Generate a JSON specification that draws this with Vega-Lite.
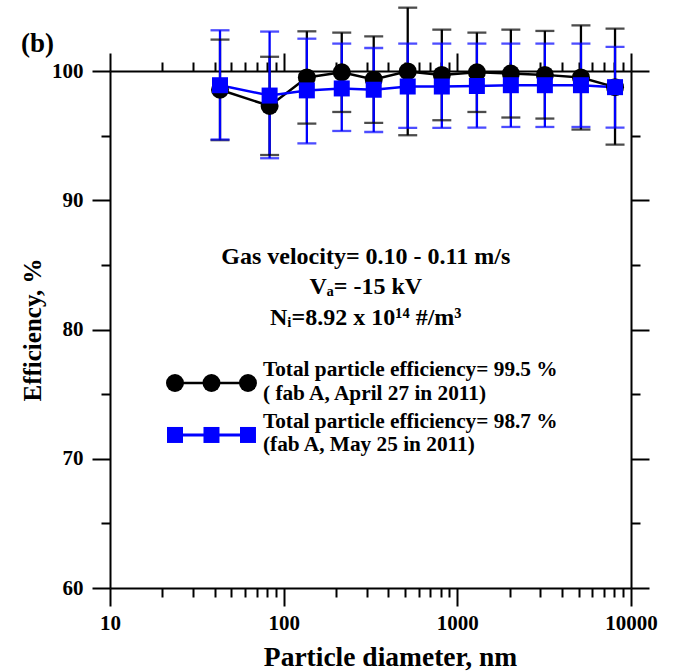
{
  "$schema": "https://vega.github.io/schema/vega-lite/v6.json",
  "width": 521,
  "height": 517,
  "autosize": {"type": "none"},
  "padding": {"left": 110, "top": 71, "right": 44, "bottom": 83},
  "background": "white",
  "title": {"text": "(b)", "anchor": "start", "frame": "group", "font": "Liberation Serif", "fontSize": 27, "fontWeight": "bold", "color": "black", "dx": -89, "offset": 0, "dy": 51},
  "config": {"view": {"stroke": null}},
  "datasets": {
    "eff": [
      {"series": "A", "d": 43, "eff": 98.55, "lo": 94.65, "hi": 102.43},
      {"series": "A", "d": 83, "eff": 97.3, "lo": 93.5, "hi": 101.1},
      {"series": "A", "d": 136, "eff": 99.5, "lo": 95.93, "hi": 103.07},
      {"series": "A", "d": 216, "eff": 99.9, "lo": 96.83, "hi": 102.97},
      {"series": "A", "d": 330, "eff": 99.35, "lo": 95.98, "hi": 102.68},
      {"series": "A", "d": 518, "eff": 99.97, "lo": 95.03, "hi": 104.9},
      {"series": "A", "d": 814, "eff": 99.7, "lo": 96.19, "hi": 103.2},
      {"series": "A", "d": 1296, "eff": 99.9, "lo": 96.83, "hi": 102.97},
      {"series": "A", "d": 2033, "eff": 99.8, "lo": 96.4, "hi": 103.2},
      {"series": "A", "d": 3192, "eff": 99.7, "lo": 96.32, "hi": 103.1},
      {"series": "A", "d": 5150, "eff": 99.5, "lo": 95.47, "hi": 103.53},
      {"series": "A", "d": 8092, "eff": 98.75, "lo": 94.3, "hi": 103.28},
      {"series": "B", "d": 43, "eff": 98.9, "lo": 94.7, "hi": 103.15},
      {"series": "B", "d": 83, "eff": 98.1, "lo": 93.25, "hi": 103.05},
      {"series": "B", "d": 136, "eff": 98.5, "lo": 94.4, "hi": 102.5},
      {"series": "B", "d": 216, "eff": 98.65, "lo": 95.36, "hi": 102.12},
      {"series": "B", "d": 330, "eff": 98.55, "lo": 95.28, "hi": 101.78},
      {"series": "B", "d": 518, "eff": 98.8, "lo": 95.6, "hi": 102.12},
      {"series": "B", "d": 814, "eff": 98.8, "lo": 95.6, "hi": 102.12},
      {"series": "B", "d": 1296, "eff": 98.84, "lo": 95.62, "hi": 102.12},
      {"series": "B", "d": 2033, "eff": 98.9, "lo": 95.67, "hi": 102.12},
      {"series": "B", "d": 3192, "eff": 98.9, "lo": 95.67, "hi": 102.12},
      {"series": "B", "d": 5150, "eff": 98.9, "lo": 95.67, "hi": 102.12},
      {"series": "B", "d": 8092, "eff": 98.75, "lo": 95.62, "hi": 101.86}
    ],
    "key": [{"series": "A"}]
  },
  "data": {"name": "eff"},
  "layer": [
    {
      "mark": {"type": "line", "strokeWidth": 2.5},
      "encoding": {
        "x": {"field": "d", "type": "quantitative", "scale": {"type": "log", "domain": [10, 10000], "nice": false},
          "axis": {"orient": "bottom", "values": [10,20,30,40,50,60,70,80,90,100,200,300,400,500,600,700,800,900,1000,2000,3000,4000,5000,6000,7000,8000,9000,10000],
            "format": "d", "labelExpr": "indexof([10,100,1000,10000], datum.value) >= 0 ? datum.label : ''",
            "tickSize": {"condition": {"test": "indexof([10,100,1000,10000], datum.value) >= 0", "value": 18}, "value": 9},
            "title": "Particle diameter, nm", "titleFont": "Liberation Serif", "titleFontSize": 27.5, "titleFontWeight": "bold", "titleColor": "black", "titlePadding": 10, "titleX": 280, "titleAlign": "center",
            "labelFont": "Liberation Serif", "labelFontSize": 21, "labelFontWeight": "bold", "labelColor": "black", "labelPadding": 6, "labelFlush": false, "labelOverlap": false,
            "domainColor": "black", "domainWidth": 2, "tickColor": "black", "tickWidth": 2, "grid": false}},
        "y": {"field": "eff", "type": "quantitative", "scale": {"domain": [60, 100], "nice": false, "zero": false},
          "axis": {"orient": "left", "values": [60,65,70,75,80,85,90,95,100],
            "labelExpr": "datum.value % 10 == 0 ? datum.label : ''",
            "tickSize": {"condition": {"test": "datum.value % 10 == 0", "value": 18}, "value": 9},
            "title": "Efficiency, %", "titleFont": "Liberation Serif", "titleFontSize": 25, "titleFontWeight": "bold", "titleColor": "black", "titlePadding": 6,
            "labelFont": "Liberation Serif", "labelFontSize": 21, "labelFontWeight": "bold", "labelColor": "black", "labelPadding": 9, "labelFlush": false, "labelOverlap": false,
            "domainColor": "black", "domainWidth": 2, "tickColor": "black", "tickWidth": 2, "grid": false}},
        "color": {"field": "series", "type": "nominal", "scale": {"domain": ["A", "B"], "range": ["#000000", "#0000ff"]}, "legend": null}
      }
    },
    {
      "mark": {"type": "rule", "strokeWidth": 2.3},
      "encoding": {
        "x": {"field": "d", "type": "quantitative", "scale": {"type": "log", "domain": [10, 10000], "nice": false},
          "axis": {"orient": "top", "values": [10,20,30,40,50,60,70,80,90,100,200,300,400,500,600,700,800,900,1000,2000,3000,4000,5000,6000,7000,8000,9000,10000],
            "labels": false, "title": null,
            "tickSize": {"condition": {"test": "indexof([10,100,1000,10000], datum.value) >= 0", "value": 18}, "value": 9},
            "domainColor": "black", "domainWidth": 2, "tickColor": "black", "tickWidth": 2, "grid": false}},
        "y": {"field": "lo", "type": "quantitative", "scale": {"domain": [60, 100], "nice": false, "zero": false},
          "axis": {"orient": "right", "values": [60,65,70,75,80,85,90,95,100], "labels": false, "title": null,
            "tickSize": {"condition": {"test": "datum.value % 10 == 0", "value": 18}, "value": 9},
            "domainColor": "black", "domainWidth": 2, "tickColor": "black", "tickWidth": 2, "grid": false}},
        "y2": {"field": "hi"},
        "color": {"field": "series", "type": "nominal", "scale": {"domain": ["A", "B"], "range": ["#000000", "#0000ff"]}, "legend": null}
      }
    },
    {
      "mark": {"type": "tick", "orient": "horizontal", "size": 19, "thickness": 2.3},
      "encoding": {
        "x": {"field": "d", "type": "quantitative", "scale": {"type": "log", "domain": [10, 10000], "nice": false}, "axis": null},
        "y": {"field": "lo", "type": "quantitative", "scale": {"domain": [60, 100], "nice": false, "zero": false}, "axis": null},
        "color": {"field": "series", "type": "nominal", "scale": {"domain": ["A", "B"], "range": ["#000000", "#0000ff"]}, "legend": null}
      }
    },
    {
      "mark": {"type": "tick", "orient": "horizontal", "size": 19, "thickness": 2.3},
      "encoding": {
        "x": {"field": "d", "type": "quantitative", "scale": {"type": "log", "domain": [10, 10000], "nice": false}, "axis": null},
        "y": {"field": "hi", "type": "quantitative", "scale": {"domain": [60, 100], "nice": false, "zero": false}, "axis": null},
        "color": {"field": "series", "type": "nominal", "scale": {"domain": ["A", "B"], "range": ["#000000", "#0000ff"]}, "legend": null}
      }
    },
    {
      "transform": [{"filter": "datum.series == 'A'"}],
      "mark": {"type": "circle", "size": 324, "opacity": 1, "color": "#000000"},
      "encoding": {
        "x": {"field": "d", "type": "quantitative", "scale": {"type": "log", "domain": [10, 10000], "nice": false}, "axis": null},
        "y": {"field": "eff", "type": "quantitative", "scale": {"domain": [60, 100], "nice": false, "zero": false}, "axis": null}
      }
    },
    {
      "transform": [{"filter": "datum.series == 'B'"}],
      "mark": {"type": "square", "size": 256, "opacity": 1, "color": "#0000ff"},
      "encoding": {
        "x": {"field": "d", "type": "quantitative", "scale": {"type": "log", "domain": [10, 10000], "nice": false}, "axis": null},
        "y": {"field": "eff", "type": "quantitative", "scale": {"domain": [60, 100], "nice": false, "zero": false}, "axis": null}
      }
    },
    {
      "data": {"name": "key"},
      "mark": {"type": "rule", "color": "#000000", "strokeWidth": 2.3},
      "encoding": {
        "x": {"datum": 23.67, "type": "quantitative", "scale": {"type": "log", "domain": [10, 10000], "nice": false}, "axis": null},
        "x2": {"datum": 62.3},
        "y": {"datum": 75.86, "type": "quantitative", "scale": {"domain": [60, 100], "nice": false, "zero": false}, "axis": null}
      }
    },
    {
      "data": {"name": "key"},
      "mark": {"type": "circle", "size": 324, "opacity": 1, "color": "#000000"},
      "encoding": {
        "x": {"datum": 23.67, "type": "quantitative", "scale": {"type": "log", "domain": [10, 10000], "nice": false}, "axis": null},
        "y": {"datum": 75.86, "type": "quantitative", "scale": {"domain": [60, 100], "nice": false, "zero": false}, "axis": null}
      }
    },
    {
      "data": {"name": "key"},
      "mark": {"type": "circle", "size": 324, "opacity": 1, "color": "#000000"},
      "encoding": {
        "x": {"datum": 38.4, "type": "quantitative", "scale": {"type": "log", "domain": [10, 10000], "nice": false}, "axis": null},
        "y": {"datum": 75.86, "type": "quantitative", "scale": {"domain": [60, 100], "nice": false, "zero": false}, "axis": null}
      }
    },
    {
      "data": {"name": "key"},
      "mark": {"type": "circle", "size": 324, "opacity": 1, "color": "#000000"},
      "encoding": {
        "x": {"datum": 62.3, "type": "quantitative", "scale": {"type": "log", "domain": [10, 10000], "nice": false}, "axis": null},
        "y": {"datum": 75.86, "type": "quantitative", "scale": {"domain": [60, 100], "nice": false, "zero": false}, "axis": null}
      }
    },
    {
      "data": {"name": "key"},
      "mark": {"type": "rule", "color": "#0000ff", "strokeWidth": 3},
      "encoding": {
        "x": {"datum": 23.67, "type": "quantitative", "scale": {"type": "log", "domain": [10, 10000], "nice": false}, "axis": null},
        "x2": {"datum": 62.3},
        "y": {"datum": 71.84, "type": "quantitative", "scale": {"domain": [60, 100], "nice": false, "zero": false}, "axis": null}
      }
    },
    {
      "data": {"name": "key"},
      "mark": {"type": "square", "size": 256, "opacity": 1, "color": "#0000ff"},
      "encoding": {
        "x": {"datum": 23.67, "type": "quantitative", "scale": {"type": "log", "domain": [10, 10000], "nice": false}, "axis": null},
        "y": {"datum": 71.84, "type": "quantitative", "scale": {"domain": [60, 100], "nice": false, "zero": false}, "axis": null}
      }
    },
    {
      "data": {"name": "key"},
      "mark": {"type": "square", "size": 256, "opacity": 1, "color": "#0000ff"},
      "encoding": {
        "x": {"datum": 38.4, "type": "quantitative", "scale": {"type": "log", "domain": [10, 10000], "nice": false}, "axis": null},
        "y": {"datum": 71.84, "type": "quantitative", "scale": {"domain": [60, 100], "nice": false, "zero": false}, "axis": null}
      }
    },
    {
      "data": {"name": "key"},
      "mark": {"type": "square", "size": 256, "opacity": 1, "color": "#0000ff"},
      "encoding": {
        "x": {"datum": 62.3, "type": "quantitative", "scale": {"type": "log", "domain": [10, 10000], "nice": false}, "axis": null},
        "y": {"datum": 71.84, "type": "quantitative", "scale": {"domain": [60, 100], "nice": false, "zero": false}, "axis": null}
      }
    },
    {
      "data": {"name": "key"},
      "mark": {"type": "text", "font": "Liberation Serif", "fontSize": 21.3, "fontWeight": "bold", "color": "black", "align": "left", "baseline": "alphabetic", "lineHeight": 23.5},
      "encoding": {
        "x": {"datum": 76.0, "type": "quantitative", "scale": {"type": "log", "domain": [10, 10000], "nice": false}, "axis": null},
        "y": {"datum": 76.4, "type": "quantitative", "scale": {"domain": [60, 100], "nice": false, "zero": false}, "axis": null},
        "text": {"value": ["Total particle efficiency= 99.5 %", "( fab A, April 27 in 2011)"]}
      }
    },
    {
      "data": {"name": "key"},
      "mark": {"type": "text", "font": "Liberation Serif", "fontSize": 21.3, "fontWeight": "bold", "color": "black", "align": "left", "baseline": "alphabetic", "lineHeight": 23.5},
      "encoding": {
        "x": {"datum": 76.0, "type": "quantitative", "scale": {"type": "log", "domain": [10, 10000], "nice": false}, "axis": null},
        "y": {"datum": 72.38, "type": "quantitative", "scale": {"domain": [60, 100], "nice": false, "zero": false}, "axis": null},
        "text": {"value": ["Total particle efficiency= 98.7 %", "(fab A, May 25 in 2011)"]}
      }
    },
    {
      "data": {"name": "key"},
      "mark": {"type": "text", "font": "Liberation Serif", "fontSize": 24, "fontWeight": "bold", "color": "black", "align": "center", "baseline": "alphabetic", "lineHeight": 30.5},
      "encoding": {
        "x": {"datum": 297, "type": "quantitative", "scale": {"type": "log", "domain": [10, 10000], "nice": false}, "axis": null},
        "y": {"datum": 85.1, "type": "quantitative", "scale": {"domain": [60, 100], "nice": false, "zero": false}, "axis": null},
        "text": {"value": ["Gas velocity= 0.10 - 0.11 m/s", "Vₐ= -15 kV", "Nᵢ=8.92 x 10¹⁴ #/m³"]}
      }
    }
  ],
  "resolve": {"axis": {"x": "independent", "y": "independent"}}
}
